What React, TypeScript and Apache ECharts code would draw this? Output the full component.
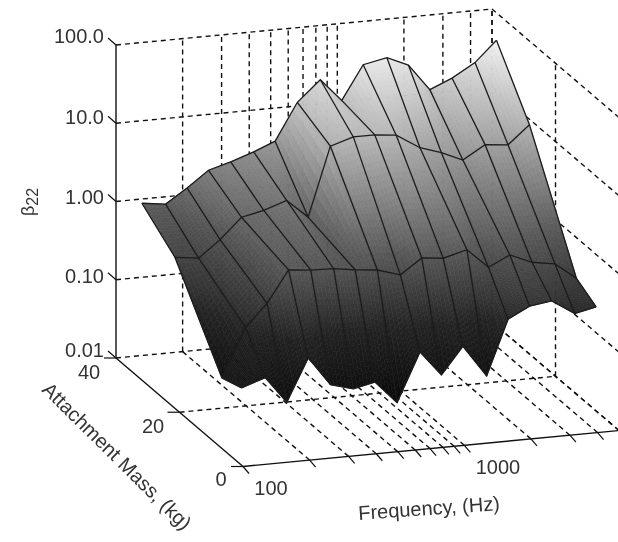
import React, { useEffect, useRef } from "react";
import * as echarts from "echarts";

// Third-octave centre frequencies of the surface (Hz)
const frequencies = [125, 160, 200, 250, 315, 400, 500, 630, 800, 1000, 1250, 1600, 2000, 2500, 3150, 4000, 5000];
// Attachment masses of the surface rows, back to front (kg)
const masses = [38.6, 28.2, 13.4, 7.2];
// log10(beta22) for each mass row
const logBetaMassA = [0.0, -0.04, 0.14, 0.34, 0.42, 0.52, 0.63, 1.1, 1.36, 1.07, 1.5, 1.56, 1.44, 1.1, 1.22, 1.39, 1.65];
const logBetaMassB = [-0.33, -0.37, -0.16, 0.1, 0.16, 0.26, 0.02, 0.9, 0.99, 0.99, 0.96, 0.77, 0.68, 0.56, 0.73, 0.7, 0.93];
const logBetaMassC = [-1.36, -0.74, -0.46, -0.06, -0.09, -0.1, -0.14, -0.17, -0.26, -0.07, -0.1, -0.02, -0.27, -0.14, -0.26, -0.31, -0.52];
const logBetaMassD = [-1.27, -1.17, -1.51, -0.97, -1.34, -1.42, -1.36, -1.65, -1.03, -1.35, -1.01, -1.42, -0.72, -0.58, -0.54, -0.73, -0.67];
const surface = [logBetaMassA, logBetaMassB, logBetaMassC, logBetaMassD];

// Axis ticks
const freqTicks = [100, 200, 300, 400, 500, 600, 700, 800, 900, 1000, 2000, 3000, 4000, 5000];
const massTicks = [0, 20, 40];
const betaTicks = [-2, -1, 0, 1, 2]; // log10
const betaLabels = ["0.01", "0.10", "1.00", "10.0", "100.0"];
const massLabels = ["0", "20", "40"];
const freqLabels = ["100", "1000"];

// Gray colour map: [log10(beta), gray level]
const colorStops = [
  [-1.75, 5],
  [-0.8, 35],
  [-0.1, 85],
  [1.0, 185],
  [1.75, 250],
];

const FMIN = 100, FMAX = 5000, MMAX = 40;

// oblique projection into the hidden axes (x: decades of f, y: decades of beta)
function project(f: number, m: number, logB: number): number[] {
  const dec = Math.log10(f / FMIN);
  const q = 1 - m / MMAX;
  return [dec + 0.574 * q, logB + 0.2708 * dec - 1.3866 * q];
}

function gray(l: number): string {
  let v = colorStops[colorStops.length - 1][1];
  if (l <= colorStops[0][0]) v = colorStops[0][1];
  else {
    for (let i = 0; i < colorStops.length - 1; i++) {
      const [a, va] = colorStops[i];
      const [b, vb] = colorStops[i + 1];
      if (l >= a && l <= b) {
        v = va + ((vb - va) * (l - a)) / (b - a);
        break;
      }
    }
  }
  v = Math.round(v);
  return `rgb(${v},${v},${v})`;
}

const DASH = { stroke: "#111111", lineWidth: 1.4, lineDash: [5, 4], fill: "none" };
const SOLID = { stroke: "#111111", lineWidth: 1.4, fill: "none" };
const MESH = { stroke: "#1c1c1c", lineWidth: 1.3, fill: "none" };

type P3 = [number, number, number];

function polyl(api: any, pts: P3[], style: any) {
  return {
    type: "polyline",
    shape: { points: pts.map((p) => api.coord(project(p[0], p[1], p[2]))) },
    style,
  };
}

function renderGrid(_: any, api: any) {
  const zLo = betaTicks[0];
  const zHi = betaTicks[betaTicks.length - 1];
  const ch: any[] = [];
  // back wall
  freqTicks.slice(1).forEach((f) => ch.push(polyl(api, [[f, MMAX, zLo], [f, MMAX, zHi]], DASH)));
  betaTicks.forEach((z) => ch.push(polyl(api, [[FMIN, MMAX, z], [FMAX, MMAX, z]], DASH)));
  // right wall
  betaTicks.forEach((z) => ch.push(polyl(api, [[FMAX, MMAX, z], [FMAX, 0, z]], DASH)));
  massTicks.forEach((m) => ch.push(polyl(api, [[FMAX, m, zLo], [FMAX, m, zHi]], DASH)));
  // floor
  freqTicks.slice(1).forEach((f) => ch.push(polyl(api, [[f, MMAX, zLo], [f, 0, zLo]], DASH)));
  ch.push(polyl(api, [[FMIN, 20, zLo], [FMAX, 20, zLo]], DASH));
  return { type: "group", children: ch };
}

const STEPS_R = 20, STEPS_C = 6;

function renderCell(_: any, api: any) {
  const r = api.value(0), c = api.value(1);
  const lf = (i: number) => Math.log10(frequencies[i]);
  const pt = (s: number, t: number) => {
    // bilinear over the cell, s across frequency, t across mass
    const f = Math.pow(10, lf(c) + (lf(c + 1) - lf(c)) * s);
    const m = masses[r] + (masses[r + 1] - masses[r]) * t;
    const top = surface[r][c] + (surface[r][c + 1] - surface[r][c]) * s;
    const bot = surface[r + 1][c] + (surface[r + 1][c + 1] - surface[r + 1][c]) * s;
    const z = top + (bot - top) * t;
    return { xy: api.coord(project(f, m, z)), z };
  };
  const ch: any[] = [];
  for (let i = 0; i < STEPS_C; i++) {
    for (let j = 0; j < STEPS_R; j++) {
      const a = pt(i / STEPS_C, j / STEPS_R);
      const b = pt((i + 1) / STEPS_C, j / STEPS_R);
      const cc = pt((i + 1) / STEPS_C, (j + 1) / STEPS_R);
      const d = pt(i / STEPS_C, (j + 1) / STEPS_R);
      const col = gray((a.z + b.z + cc.z + d.z) / 4);
      ch.push({
        type: "polygon",
        shape: { points: [a.xy, b.xy, cc.xy, d.xy] },
        style: { fill: col, stroke: col, lineWidth: 0.6 },
      });
    }
  }
  return { type: "group", children: ch };
}

function renderMesh(_: any, api: any) {
  const ch: any[] = [];
  surface.forEach((row, r) => {
    ch.push(polyl(api, row.map((z, c) => [frequencies[c], masses[r], z] as P3), MESH));
  });
  frequencies.forEach((f, c) => {
    ch.push(polyl(api, surface.map((row, r) => [f, masses[r], row[c]] as P3), MESH));
  });
  return { type: "group", children: ch };
}

function renderAxes(_: any, api: any) {
  const zLo = betaTicks[0];
  const zHi = betaTicks[betaTicks.length - 1];
  const ch: any[] = [];
  ch.push(polyl(api, [[FMIN, MMAX, zLo], [FMIN, MMAX, zHi]], SOLID));
  ch.push(polyl(api, [[FMIN, MMAX, zLo], [FMIN, 0, zLo]], SOLID));
  ch.push(polyl(api, [[FMIN, 0, zLo], [FMAX, 0, zLo]], SOLID));
  const tick = (p: number[], dx: number, dy: number) => ({
    type: "line",
    shape: { x1: p[0], y1: p[1], x2: p[0] + dx, y2: p[1] + dy },
    style: { stroke: "#111111", lineWidth: 1.2 },
  });
  betaTicks.forEach((z) => ch.push(tick(api.coord(project(FMIN, MMAX, z)), -8, -7)));
  massTicks.forEach((m) => ch.push(tick(api.coord(project(FMIN, m, zLo)), -12, 0)));
  freqTicks.forEach((f) => ch.push(tick(api.coord(project(f, 0, zLo)), 6, 7)));
  return { type: "group", children: ch };
}

const labelStyle = { fontFamily: "Liberation Sans", fill: "#333333" };

function label(text: string, x: number, y: number, align = "center", rotation = 0, fontSize = 20) {
  return {
    type: "text",
    x,
    y,
    rotation,
    silent: true,
    style: { ...labelStyle, text, fontSize, align, verticalAlign: "middle" },
    z: 20,
  };
}

export default function App() {
  const ref = useRef<HTMLDivElement>(null);
  useEffect(() => {
    const chart = echarts.init(ref.current!, undefined, { renderer: "svg" });
    const cells: number[][] = [];
    for (let r = 0; r < masses.length - 1; r++) {
      for (let c = 0; c < frequencies.length - 1; c++) cells.push([r, c]);
    }
    const betaY = [350, 276, 197, 117, 36];
    const common = { type: "custom", coordinateSystem: "cartesian2d", clip: false, silent: true };
    chart.setOption({
      animation: false,
      backgroundColor: "#ffffff",
      grid: { left: 116, top: 45, width: 376, height: 313 },
      xAxis: { type: "value", min: 0, max: 1.699, show: false },
      yAxis: { type: "value", min: -2, max: 2, show: false },
      series: [
        { ...common, data: [[0, 0]], renderItem: renderGrid, z: 1 },
        { ...common, data: cells, renderItem: renderCell, z: 2 },
        { ...common, data: [[0, 0]], renderItem: renderMesh, z: 3 },
        { ...common, data: [[0, 0]], renderItem: renderAxes, z: 4 },
      ],
      graphic: [
        ...betaLabels.map((t, i) => label(t, 104, betaY[i], "right")),
        label(massLabels[2], 89, 372),
        label(massLabels[1], 153, 426),
        label(massLabels[0], 221, 479),
        label(freqLabels[0], 271, 488),
        label(freqLabels[1], 498, 467),
        label("Frequency, (Hz)", 429, 508, "center", 0.07),
        label("Attachment Mass, (kg)", 117, 456, "center", -0.78),
        {
          type: "text",
          x: 28,
          y: 202,
          rotation: Math.PI / 2,
          silent: true,
          z: 20,
          style: {
            text: "{a|β}{b|22}",
            align: "center",
            verticalAlign: "middle",
            fill: "#333333",
            rich: {
              a: { fontFamily: "Liberation Sans", fontSize: 18, fill: "#333333", lineHeight: 20 },
              b: { fontFamily: "Liberation Sans", fontSize: 16, fill: "#333333", lineHeight: 20, padding: [8, 0, 0, 0] },
            },
          },
        },
      ],
    });
    return () => chart.dispose();
  }, []);
  return <div ref={ref} style={{ position: "absolute", left: 0, top: 0, width: 618, height: 542, filter: "blur(0.4px)" }} />;
}
